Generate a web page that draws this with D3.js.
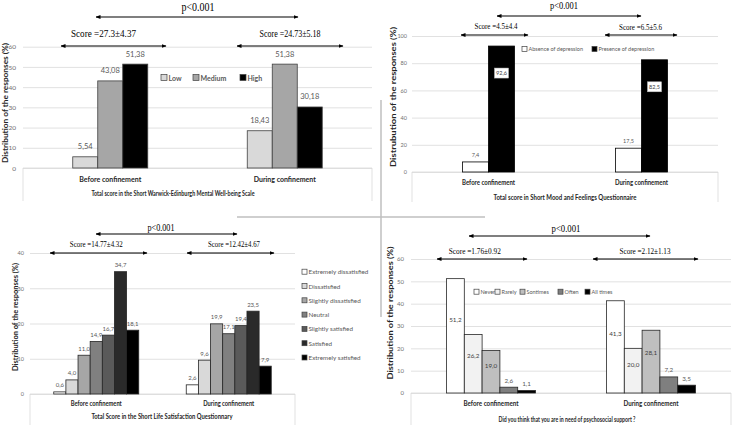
<!DOCTYPE html>
<html><head><meta charset="utf-8">
<script src="https://cdn.jsdelivr.net/npm/d3@7"></script>
<style>
html,body{margin:0;padding:0;background:#fff;}
svg{display:block;}
</style></head>
<body>
<svg id="c" width="732" height="425"></svg>
<script>
// ---------------- DATA ----------------
const categories = ["Before confinement", "During confinement"];

// Panel 1 : Short Warwick-Edinburgh Mental Well-being Scale
const wembsSeries = ["Low", "Medium", "High"];
const wembsValues = [[5.54, 18.43], [43.08, 51.38], [51.38, 30.18]];
const wembsTicks = [0, 10, 20, 30, 40, 50, 60];
const wembsScores = ["Score =27.3±4.37", "Score =24.73±5.18"];

// Panel 2 : Short Mood and Feelings Questionnaire
const smfqSeries = ["Absence of depression", "Presence of depression"];
const smfqValues = [[7.4, 17.5], [92.6, 82.5]];
const smfqTicks = [0, 20, 40, 60, 80, 100];
const smfqScores = ["Score =4.5±4.4", "Score =6.5±5.6"];

// Panel 3 : Short Life Satisfaction Questionnary
const slsqSeries = ["Extremely dissatisfied", "Dissatisfied", "Slightly dissatisfied", "Neutral", "Slightly satisfied", "Satisfied", "Extremely satisfied"];
const slsqValues = [[0.6, 2.6], [4.0, 9.6], [11.0, 19.9], [14.9, 17.1], [16.7, 19.4], [34.7, 23.5], [18.1, 7.9]];
const slsqTicks = [0, 10, 20, 30, 40];
const slsqScores = ["Score =14.77±4.32", "Score =12.42±4.67"];

// Panel 4 : psychosocial support
const supSeries = ["Never", "Rarely", "Sontimes", "Often", "All times"];
const supValues = [[51.2, 41.3], [26.2, 20.0], [19.0, 28.1], [2.6, 7.2], [1.1, 3.5]];
const supTicks = [0, 10, 20, 30, 40, 50, 60];
const supScores = ["Score =1.76±0.92", "Score =2.12±1.13"];

const pText = "p<0.001";

// ---------------- DRAWING ----------------
const svg = d3.select("#c");
const SANS = "Lato, 'Open Sans', sans-serif";
const SERIF = "'Liberation Serif', 'DejaVu Serif', serif";

const defs = svg.append("defs");
defs.append("marker").attr("id", "ah").attr("viewBox", "0 0 10 10")
  .attr("refX", 9).attr("refY", 5).attr("markerWidth", 5).attr("markerHeight", 5)
  .attr("markerUnits", "userSpaceOnUse")
  .attr("orient", "auto-start-reverse")
  .append("path").attr("d", "M0,1L10,5L0,9Z").attr("fill", "#000");

function txt(g, s, x, y, o) {
  const t = g.append("text").attr("x", x).attr("y", y).text(s)
    .attr("font-family", o.family || SANS)
    .attr("font-size", o.size)
    .attr("font-weight", o.weight || "normal")
    .attr("fill", o.fill || "#000")
    .attr("text-anchor", o.anchor || "middle")
    .attr("dominant-baseline", "central");
  if (o.width) t.attr("textLength", o.width).attr("lengthAdjust", "spacingAndGlyphs");
  if (o.rotate) t.attr("transform", `rotate(-90,${x},${y})`);
  return t;
}
function arrow(g, x1, x2, y) {
  g.append("line").attr("x1", x1).attr("x2", x2).attr("y1", y).attr("y2", y)
    .attr("stroke", "#000").attr("stroke-width", 1.1)
    .attr("marker-start", "url(#ah)").attr("marker-end", "url(#ah)");
}
function lab(v, dec) { return d3.format("." + dec + "f")(v).replace(".", ","); }

function panel(cfg) {
  const g = svg.append("g");
  const x = d3.scaleBand().domain(categories).range([cfg.x0, cfg.x1]).padding(0);
  const xi = d3.scaleBand().domain(cfg.series).range([-cfg.gw / 2, cfg.gw / 2]).padding(0);
  const y = d3.scaleLinear().domain([0, d3.max(cfg.ticks)]).range([cfg.yb, cfg.yt]);

  const ax = d3.axisLeft(y).tickValues(cfg.ticks).tickSize(-(cfg.x1 - cfg.x0)).tickPadding(cfg.tpad);
  const ag = g.append("g").attr("transform", `translate(${cfg.x0},0)`).call(ax);
  ag.select(".domain").remove();
  ag.selectAll(".tick line").attr("stroke", "#d9d9d9").attr("stroke-width", 0.8);
  ag.selectAll(".tick text").attr("font-family", SANS).attr("font-size", cfg.tsize).attr("fill", "#6f6f6f");

  const yb = y(0);
  g.append("path").attr("d", `M${cfg.x0},${yb + cfg.boxH}V${yb}H${cfg.x1}V${yb + cfg.boxH}`)
    .attr("fill", "none").attr("stroke", "#d9d9d9").attr("stroke-width", 0.8);

  cfg.series.forEach((s, si) => {
    categories.forEach((c, ci) => {
      const v = cfg.values[si][ci];
      const bx = x(c) + x.bandwidth() / 2 + xi(s);
      const by = y(v);
      g.append("rect").attr("x", bx).attr("y", by).attr("width", xi.bandwidth()).attr("height", yb - by)
        .attr("fill", cfg.colors[si]).attr("stroke", cfg.stroke).attr("stroke-width", 0.8);
      const cx = bx + xi.bandwidth() / 2;
      const mode = cfg.labelMode(v, si);
      if (mode === "above") {
        txt(g, lab(v, cfg.dec), cx, by - cfg.labGap, { size: cfg.lsize, fill: "#595959" });
      } else if (mode === "inside") {
        txt(g, lab(v, cfg.dec), cx, by + (yb - by) * 0.36, { size: cfg.lsize, fill: "#404040" });
      } else if (mode === "box") {
        const ly = by + 27;
        g.append("rect").attr("x", cx - 7).attr("y", ly - 5).attr("width", 14).attr("height", 10)
          .attr("fill", "#fff").attr("stroke", "#bfbfbf").attr("stroke-width", 0.5);
        txt(g, lab(v, cfg.dec), cx, ly, { size: cfg.lsize, fill: "#404040" });
      }
    });
  });

  categories.forEach((c) => {
    txt(g, c, x(c) + x.bandwidth() / 2, cfg.catY, { size: cfg.catSize, weight: "bold", fill: "#262626", width: cfg.catW });
  });
  txt(g, cfg.title, cfg.titleX, cfg.titleY, { size: cfg.titleSize, weight: "bold", fill: "#262626", width: cfg.titleW });
  txt(g, cfg.ylabel, cfg.ylX, cfg.ylY, { size: cfg.ylSize, weight: "bold", fill: "#262626", width: cfg.ylW, rotate: true });

  cfg.series.forEach((s, si) => {
    const p = cfg.legendPos[si];
    g.append("rect").attr("x", p[0]).attr("y", p[1] - cfg.legSq / 2).attr("width", cfg.legSq).attr("height", cfg.legSq)
      .attr("fill", cfg.colors[si]).attr("stroke", "#404040").attr("stroke-width", 0.7);
    txt(g, s, p[0] + cfg.legSq + 1.5, p[1], { size: cfg.legSize, anchor: "start", fill: "#595959", weight: cfg.legWeight || "normal" });
  });

  const a = cfg.ann;
  txt(g, pText, a.pX, a.pY, { family: SERIF, size: a.pSize, width: a.pW });
  arrow(g, a.pA[0], a.pA[1], a.pA[2]);
  cfg.scores.forEach((s, i) => {
    txt(g, s, a.sX[i], a.sY[i], { family: SERIF, size: a.sSize, width: a.sW[i] });
    arrow(g, a.sA[i][0], a.sA[i][1], a.sAY);
  });
}

// Panel 1
panel({
  x0: 23, x1: 372, yb: 168, yt: 46.7, gw: 75, ticks: wembsTicks, tpad: 7, tsize: 6.5,
  series: wembsSeries, values: wembsValues,
  colors: ["#d9d9d9", "#a6a6a6", "#000000"], stroke: "#404040",
  dec: 2, lsize: 7.5, labGap: 10, labelMode: () => "above",
  boxH: 33, catY: 179, catSize: 7.5, catW: 62,
  title: "Total score in the Short Warwick-Edinburgh Mental Well-being Scale", titleX: 173, titleY: 193, titleSize: 7.8, titleW: 163,
  ylabel: "Distribution of the responses (%)", ylX: 5, ylY: 103, ylSize: 7, ylW: 120,
  legendPos: [[161, 77.5], [193, 77.5], [240, 77.5]], legSq: 6, legSize: 7, legWeight: "bold",
  scores: wembsScores,
  ann: { pX: 198, pY: 7, pSize: 12, pW: 33, pA: [96, 298, 17],
    sX: [103.5, 290], sY: [33, 33], sSize: 10, sW: [65, 61], sA: [[61, 166], [237, 343]], sAY: 46 }
});

// Panel 2
panel({
  x0: 412, x1: 718, yb: 172, yt: 36, gw: 52, ticks: smfqTicks, tpad: 5, tsize: 5.5,
  series: smfqSeries, values: smfqValues,
  colors: ["#ffffff", "#000000"], stroke: "#000",
  dec: 1, lsize: 5.5, labGap: 7, labelMode: (v, si) => si === 0 ? "above" : "box",
  boxH: 30, catY: 182, catSize: 6.8, catW: 53,
  title: "Total score in Short Mood and Feelings Questionnaire", titleX: 565, titleY: 197, titleSize: 7, titleW: 143,
  ylabel: "Distrubution of the responses (%)", ylX: 393, ylY: 97, ylSize: 7.5, ylW: 140,
  legendPos: [[522, 49], [592, 49]], legSq: 5, legSize: 5.5,
  scores: smfqScores,
  ann: { pX: 564, pY: 5, pSize: 10, pW: 28, pA: [497, 641, 16],
    sX: [496, 640.5], sY: [26, 27], sSize: 8, sW: [43, 43], sA: [[461, 528], [605, 677]], sAY: 35 }
});

// Panel 3
panel({
  x0: 30, x1: 295, yb: 394, yt: 253, gw: 85, ticks: slsqTicks, tpad: 6, tsize: 5.5,
  series: slsqSeries, values: slsqValues,
  colors: ["#ffffff", "#d9d9d9", "#a6a6a6", "#808080", "#5a5a5a", "#2a2a2a", "#000000"], stroke: "#262626",
  dec: 1, lsize: 6, labGap: 7, labelMode: () => "above",
  boxH: 31, catY: 403, catSize: 6.8, catW: 51,
  title: "Total Score in the Short Life Satisfaction Questionnary", titleX: 162, titleY: 416, titleSize: 7, titleW: 141,
  ylabel: "Distribution of  the responses (%)", ylX: 15, ylY: 317, ylSize: 6.5, ylW: 108,
  legendPos: slsqSeries.map((s, i) => [302, 271.7 + i * 14.3]), legSq: 5, legSize: 6.3,
  scores: slsqScores,
  ann: { pX: 161, pY: 227, pSize: 10, pW: 27, pA: [96, 237, 234],
    sX: [96.3, 234], sY: [244, 244], sSize: 7.5, sW: [53, 52], sA: [[50, 147], [187, 274]], sAY: 253 }
});

// Panel 4
panel({
  x0: 411, x1: 731, yb: 393, yt: 259, gw: 89, ticks: supTicks, tpad: 7, tsize: 6,
  series: supSeries, values: supValues,
  colors: ["#ffffff", "#f2f2f2", "#bfbfbf", "#7f7f7f", "#000000"], stroke: "#262626",
  dec: 1, lsize: 6.3, labGap: 7, labelMode: v => v > 10 ? "inside" : "above",
  boxH: 32, catY: 403, catSize: 6.8, catW: 55,
  title: "Did you think that you are in need of psychosocial support ?", titleX: 567, titleY: 419, titleSize: 7, titleW: 137,
  ylabel: "Distribution of the responses (%)", ylX: 390, ylY: 313, ylSize: 7, ylW: 133,
  legendPos: [[474, 291.7], [495, 291.7], [520, 291.7], [558, 291.7], [585, 291.7]], legSq: 5, legSize: 5.5,
  scores: supScores,
  ann: { pX: 566, pY: 228, pSize: 10.5, pW: 29, pA: [469, 650, 236],
    sX: [474.8, 645], sY: [251, 251], sSize: 8, sW: [52, 51], sA: [[437, 527], [593, 698]], sAY: 259 }
});

// dividing cross
svg.append("line").attr("x1", 237).attr("x2", 485).attr("y1", 217).attr("y2", 217)
  .attr("stroke", "#bfbfbf").attr("stroke-width", 1.5);
svg.append("line").attr("x1", 381).attr("x2", 381).attr("y1", 100).attr("y2", 317)
  .attr("stroke", "#bfbfbf").attr("stroke-width", 1.5);
</script>
</body></html>
